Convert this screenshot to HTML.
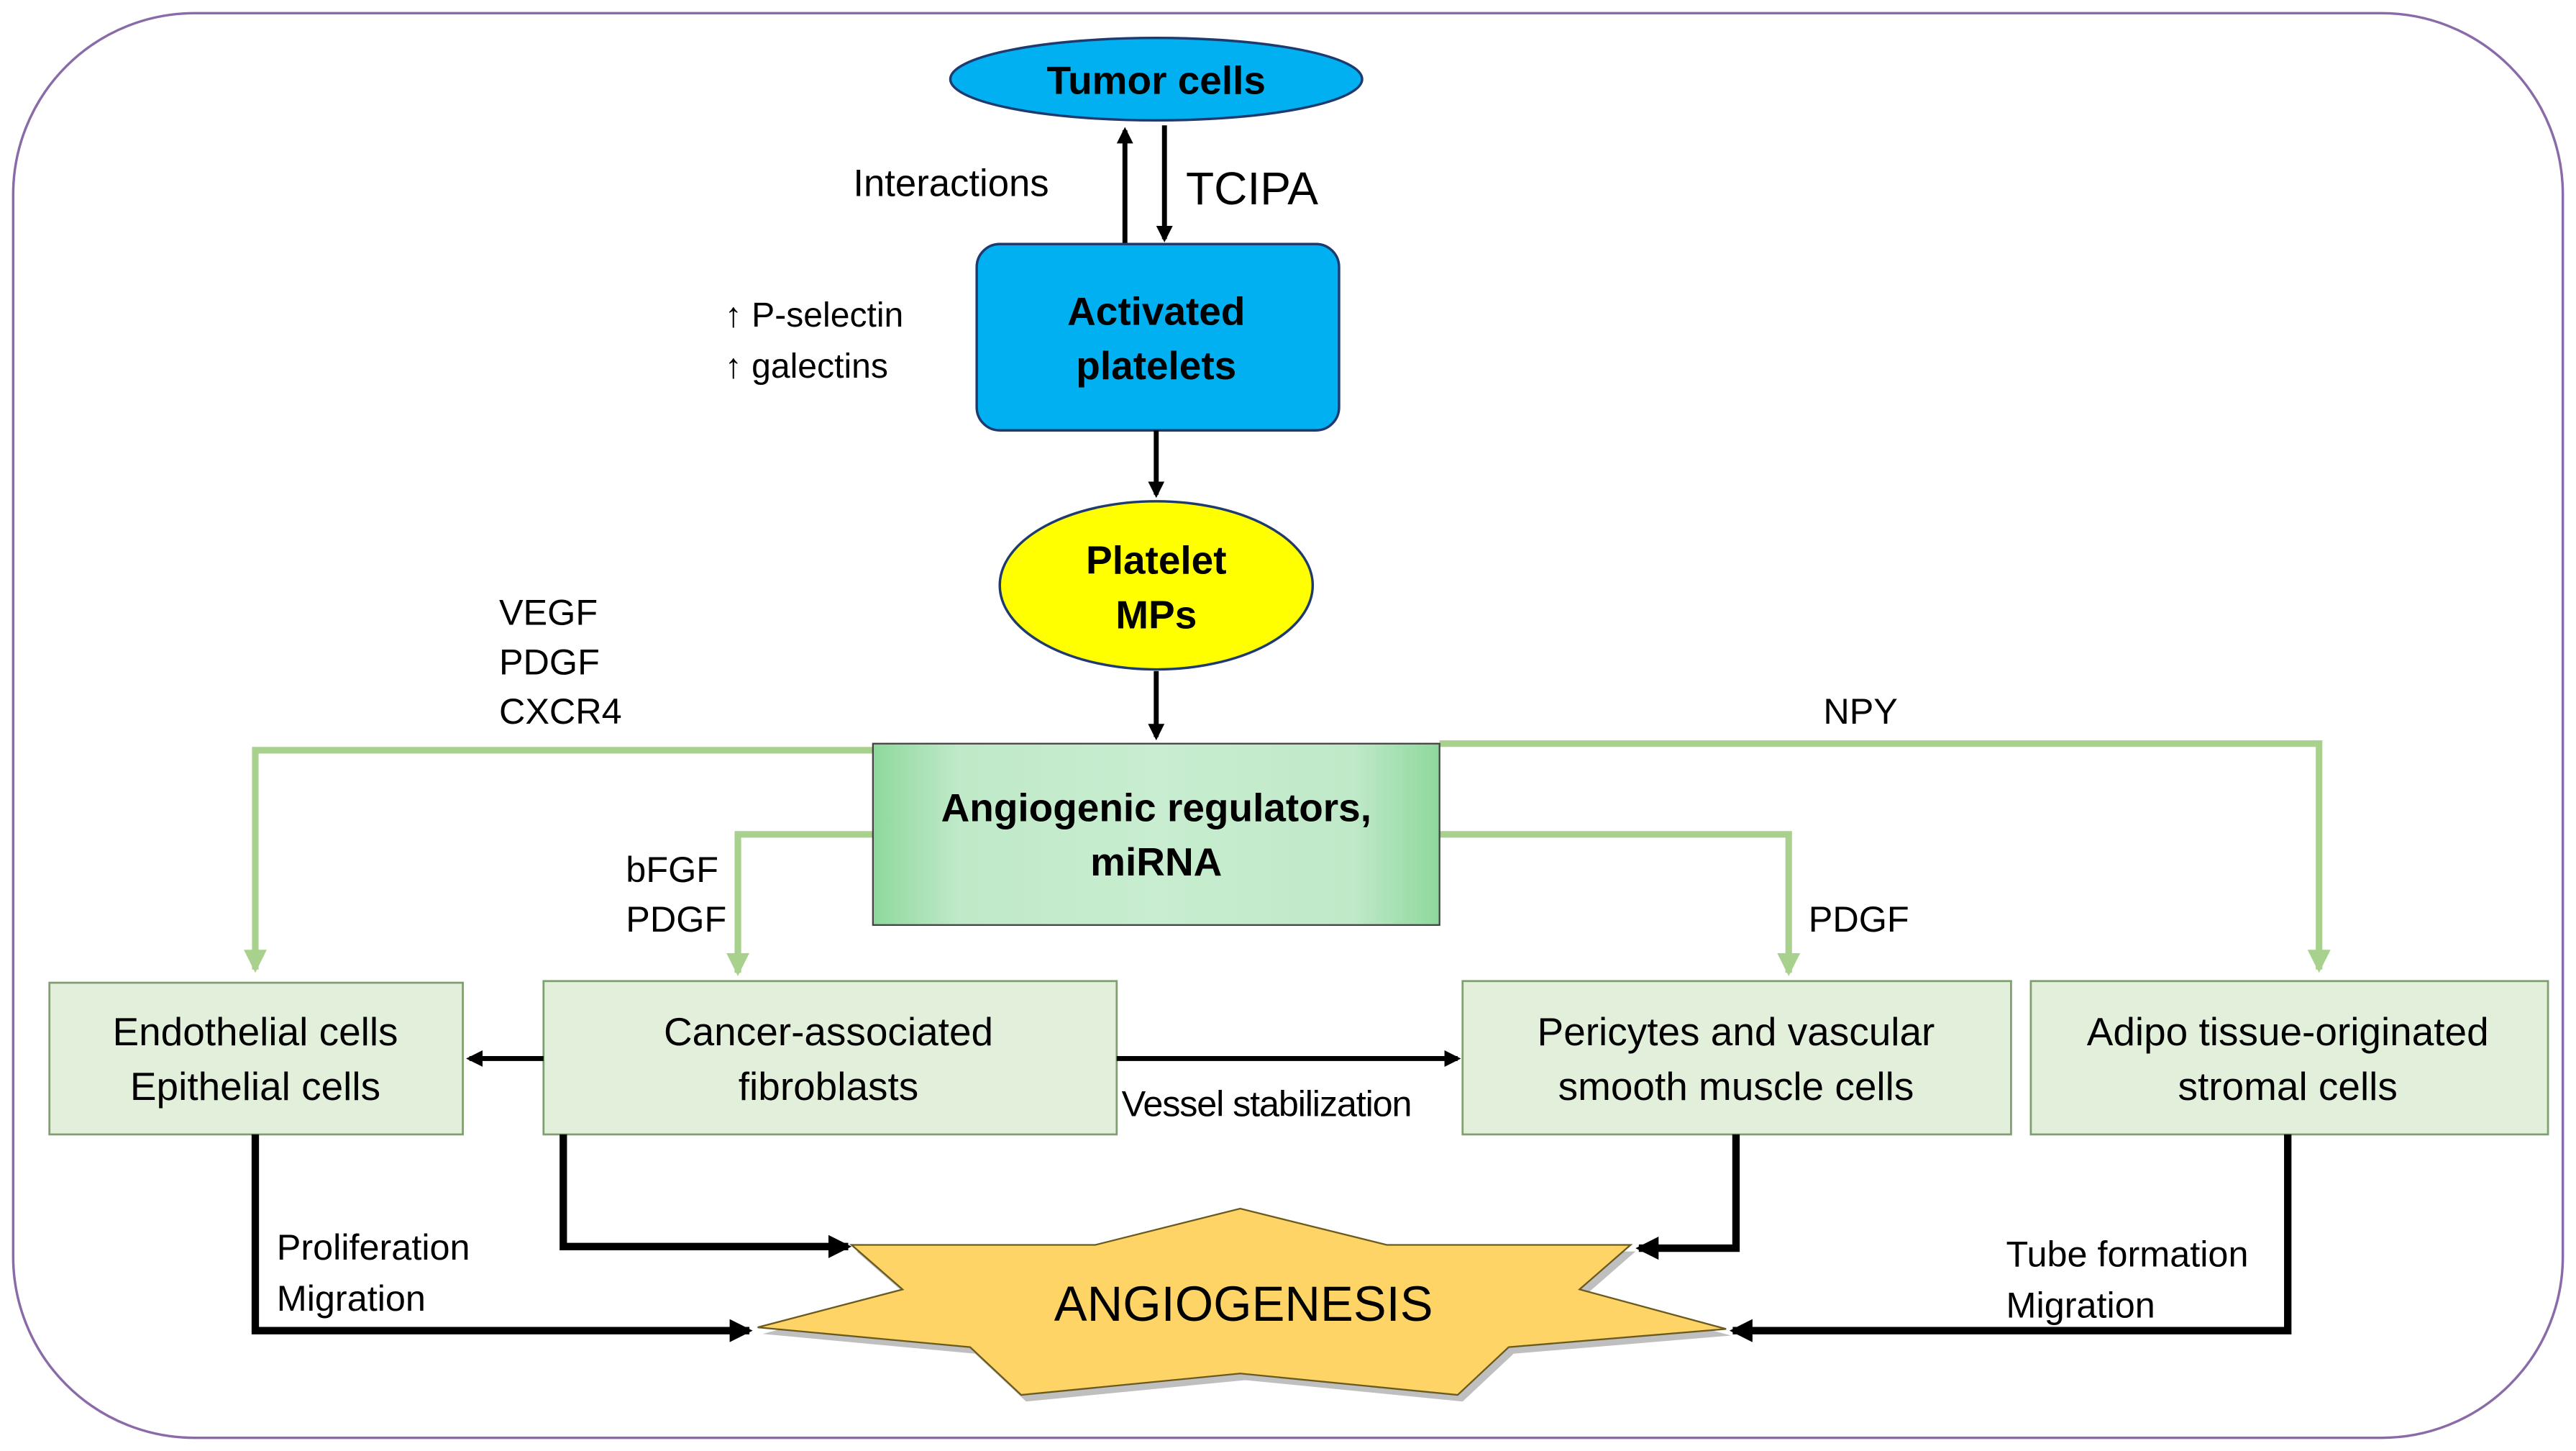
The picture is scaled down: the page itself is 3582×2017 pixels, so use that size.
<!DOCTYPE html>
<html><head><meta charset="utf-8"><style>
html,body{margin:0;padding:0;background:#fff;}
svg{display:block;}
text{font-family:"Liberation Sans",Arial,sans-serif;fill:#000;}
</style></head><body>
<svg width="3582" height="2017" viewBox="0 0 1564 880" preserveAspectRatio="none" xmlns="http://www.w3.org/2000/svg">
<defs>
<marker id="ab" markerWidth="10" markerHeight="10" refX="8" refY="5" orient="auto" markerUnits="userSpaceOnUse"><path d="M0,0 L10,5 L0,10 Z" fill="#000"/></marker>
<marker id="ag" markerWidth="14" markerHeight="14" refX="12" refY="7" orient="auto" markerUnits="userSpaceOnUse"><path d="M0,0 L14,7 L0,14 Z" fill="#a9d18e"/></marker>
<marker id="abb" markerWidth="14" markerHeight="14" refX="12" refY="7" orient="auto" markerUnits="userSpaceOnUse"><path d="M0,0 L14,7 L0,14 Z" fill="#000"/></marker>
<linearGradient id="gg" x1="0" x2="1" y1="0" y2="0">
<stop offset="0" stop-color="#8ed89c"/><stop offset="0.15" stop-color="#bfe9c8"/><stop offset="0.5" stop-color="#c8edd0"/><stop offset="0.85" stop-color="#bfe9c8"/><stop offset="1" stop-color="#8ed89c"/></linearGradient>
</defs>
<rect x="8" y="8" width="1548" height="864" rx="110" ry="110" fill="none" stroke="#8a6aa8" stroke-width="1.5"/>

<!-- green connectors -->
<g stroke="#a9d18e" stroke-width="4" fill="none">
<polyline points="530,455 155,455 155,588" marker-end="url(#ag)"/>
<polyline points="874,451 1408,451 1408,588" marker-end="url(#ag)"/>
<polyline points="530,506 448,506 448,590" marker-end="url(#ag)"/>
<polyline points="874,506 1086,506 1086,590" marker-end="url(#ag)"/>
</g>

<!-- tumor -->
<ellipse cx="702" cy="48" rx="125" ry="25" fill="#00b0f0" stroke="#1f3a6e" stroke-width="1.5"/>
<text x="702" y="57" font-size="24" font-weight="bold" text-anchor="middle">Tumor cells</text>
<line x1="683" y1="148" x2="683" y2="79" stroke="#000" stroke-width="3" marker-end="url(#ab)"/>
<line x1="707" y1="76" x2="707" y2="145" stroke="#000" stroke-width="3" marker-end="url(#ab)"/>
<text x="518" y="119" font-size="23">Interactions</text>
<text x="720" y="124" font-size="28">TCIPA</text>

<rect x="593" y="148" width="220" height="113" rx="14" fill="#00b0f0" stroke="#1f3a6e" stroke-width="1.5"/>
<text x="702" y="197" font-size="24" font-weight="bold" text-anchor="middle">Activated</text>
<text x="702" y="230" font-size="24" font-weight="bold" text-anchor="middle">platelets</text>
<text x="440" y="198" font-size="21">↑ P-selectin</text>
<text x="440" y="229" font-size="21">↑ galectins</text>
<line x1="702" y1="261" x2="702" y2="300" stroke="#000" stroke-width="3" marker-end="url(#ab)"/>

<ellipse cx="702" cy="355" rx="95" ry="51" fill="#ffff00" stroke="#1f3a6e" stroke-width="1.5"/>
<text x="702" y="348" font-size="24" font-weight="bold" text-anchor="middle">Platelet</text>
<text x="702" y="381" font-size="24" font-weight="bold" text-anchor="middle">MPs</text>
<line x1="702" y1="407" x2="702" y2="447" stroke="#000" stroke-width="3" marker-end="url(#ab)"/>

<rect x="530" y="451" width="344" height="110" fill="url(#gg)" stroke="#444" stroke-width="1"/>
<text x="702" y="498" font-size="24" font-weight="bold" text-anchor="middle">Angiogenic regulators,</text>
<text x="702" y="531" font-size="24" font-weight="bold" text-anchor="middle">miRNA</text>

<g font-size="22">
<text x="303" y="379">VEGF</text>
<text x="303" y="409">PDGF</text>
<text x="303" y="439">CXCR4</text>
<text x="1107" y="439">NPY</text>
<text x="380" y="535">bFGF</text>
<text x="380" y="565">PDGF</text>
<text x="1098" y="565">PDGF</text>
</g>

<!-- boxes -->
<g fill="#e2efda" stroke="#7f9f6f" stroke-width="1.2">
<rect x="30" y="596" width="251" height="92"/>
<rect x="330" y="595" width="348" height="93"/>
<rect x="888" y="595" width="333" height="93"/>
<rect x="1233" y="595" width="314" height="93"/>
</g>
<g font-size="24" text-anchor="middle">
<text x="155" y="634">Endothelial  cells</text>
<text x="155" y="667">Epithelial cells</text>
<text x="503" y="634">Cancer-associated</text>
<text x="503" y="667">fibroblasts</text>
<text x="1054" y="634">Pericytes and vascular</text>
<text x="1054" y="667">smooth muscle cells</text>
<text x="1389" y="634">Adipo tissue-originated</text>
<text x="1389" y="667">stromal cells</text>
</g>
<line x1="330" y1="642" x2="285" y2="642" stroke="#000" stroke-width="3" marker-end="url(#ab)"/>
<line x1="678" y1="642" x2="885" y2="642" stroke="#000" stroke-width="3" marker-end="url(#ab)"/>
<text x="681" y="677" font-size="22" letter-spacing="-0.5">Vessel stabilization</text>

<!-- star -->
<polygon points="517,755 665,755 753,733 842,755 990,755 959,782 1048,806 916,817 885,846 753,833 620,846 589,817 460,805 548,782" fill="#000" opacity="0.25" transform="translate(3,4)"/>
<polygon points="517,755 665,755 753,733 842,755 990,755 959,782 1048,806 916,817 885,846 753,833 620,846 589,817 460,805 548,782" fill="#fdd465" stroke="#6a5a20" stroke-width="1"/>
<text x="755" y="801" font-size="30" text-anchor="middle">ANGIOGENESIS</text>

<g stroke="#000" stroke-width="4.5" fill="none">
<polyline points="155,688 155,807 455,807" marker-end="url(#abb)"/>
<polyline points="342,688 342,756 515,756" marker-end="url(#abb)"/>
<polyline points="1054,688 1054,757 995,757" marker-end="url(#abb)"/>
<polyline points="1389,688 1389,807 1052,807" marker-end="url(#abb)"/>
</g>
<g font-size="22">
<text x="168" y="764">Proliferation</text>
<text x="168" y="795">Migration</text>
<text x="1218" y="768">Tube formation</text>
<text x="1218" y="799">Migration</text>
</g>
</svg>
</body></html>
